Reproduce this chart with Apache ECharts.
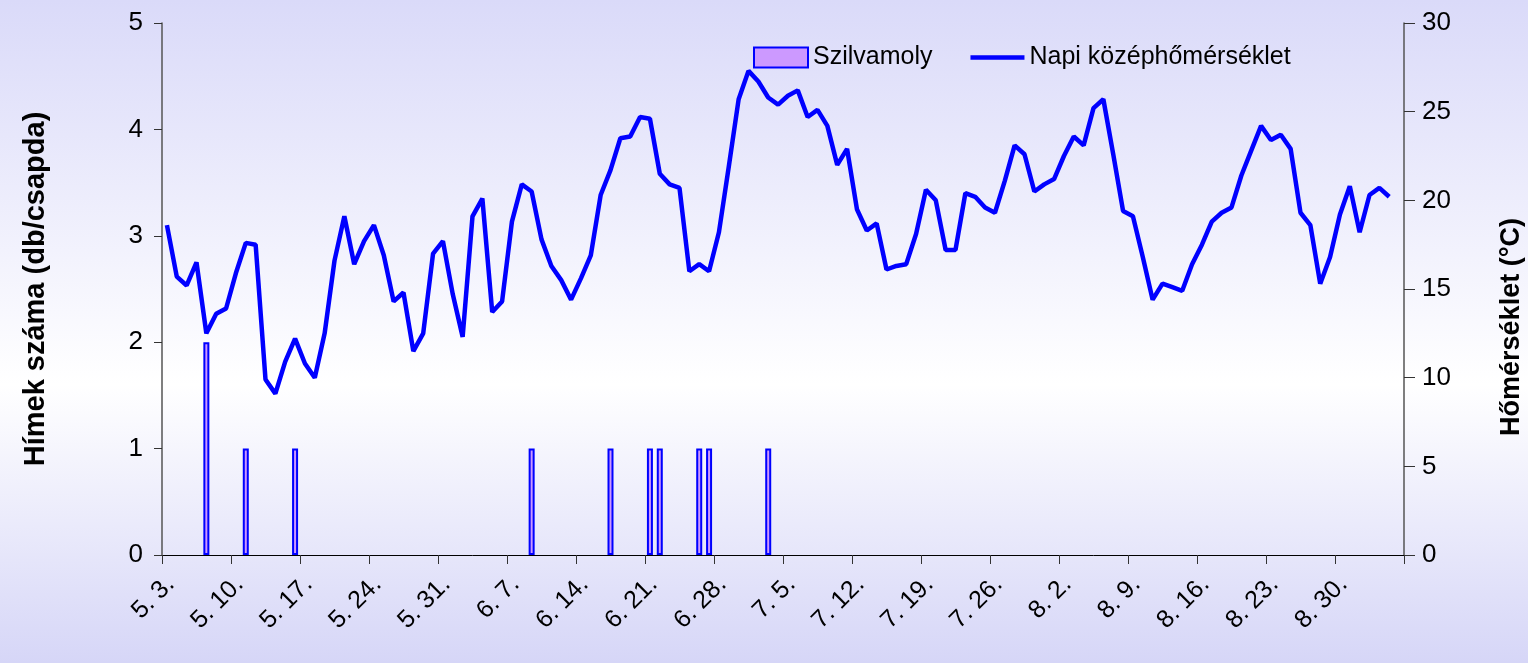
<!DOCTYPE html>
<html>
<head>
<meta charset="utf-8">
<script src="https://cdn.jsdelivr.net/npm/echarts@6/dist/echarts.min.js"></script>
<style>
html,body{margin:0;padding:0;}
#chart{width:1528px;height:663px;}
</style>
</head>
<body>
<div id="chart"></div>
<script>
// Tick labels every 7 days starting 5. 3.
const tickLabels = ['5. 3.','5. 10.','5. 17.','5. 24.','5. 31.','6. 7.','6. 14.','6. 21.','6. 28.','7. 5.','7. 12.','7. 19.','7. 26.','8. 2.','8. 9.','8. 16.','8. 23.','8. 30.'];
const totalDays = 126;
// Daily mean temperature (°C), day 0 = 5. 3.
const temps = [18.6,15.7,15.2,16.5,12.5,13.6,13.9,15.9,17.6,17.5,
  9.9,9.1,10.9,12.2,10.8,10.0,12.5,16.6,19.1,16.4,
  17.7,18.6,16.9,14.3,14.8,11.5,12.5,17.0,17.7,14.7,
  12.3,19.1,20.1,13.7,14.3,18.8,20.9,20.5,17.8,16.3,
  15.5,14.4,15.6,16.9,20.3,21.7,23.5,23.6,24.7,24.6,
  21.5,20.9,20.7,16.0,16.4,16.0,18.2,21.9,25.7,27.3,
  26.7,25.8,25.4,25.9,26.2,24.7,25.1,24.2,22.0,22.9,
  19.5,18.3,18.7,16.1,16.3,16.4,18.1,20.6,20.0,17.2,
  17.2,20.4,20.2,19.6,19.3,21.1,23.1,22.6,20.5,20.9,
  21.2,22.5,23.6,23.1,25.2,25.7,22.6,19.4,19.1,16.8,
  14.4,15.3,15.1,14.9,16.4,17.5,18.8,19.3,19.6,21.4,
  22.8,24.2,23.4,23.7,22.9,19.3,18.6,15.3,16.8,19.2,
  20.8,18.2,20.3,20.7,20.2];
// Plum moth trap catches: day index and count
const mothDays = [4,8,13,37,45,49,50,54,55,61];
const mothCounts = [2,1,1,1,1,1,1,1,1,1];

const FONT = "'Liberation Sans', Arial, sans-serif";
const TICK = {color: '#333', width: 1};
const chart = echarts.init(document.getElementById('chart'));
chart.setOption({
  animation: false,
  backgroundColor: {
    type: 'linear', x: 0, y: 0, x2: 0, y2: 1,
    colorStops: [
      {offset: 0, color: '#dadaf9'},
      {offset: 0.58, color: '#ffffff'},
      {offset: 1, color: '#d6d6f7'}
    ]
  },
  textStyle: {fontFamily: FONT},
  grid: {left: 162, right: 124, top: 23, bottom: 108},
  legend: {
    left: 748, top: 40,
    itemWidth: 54, itemHeight: 20, itemGap: 38,
    textStyle: {fontSize: 25, color: '#000', fontFamily: FONT},
    data: [
      {name: 'Szilvamoly', icon: 'rect', itemStyle: {color: '#cc99ff', borderColor: '#0000ff', borderWidth: 2}},
      {name: 'Napi középhőmérséklet', icon: 'path://M0,0 L120,0 L120,10 L0,10 Z', itemStyle: {color: '#0000ff', borderWidth: 0}}
    ]
  },
  graphic: [{
    type: 'text', x: 1512, y: 327, rotation: Math.PI / 2,
    style: {
      text: 'Hőmérséklet (°C)', fill: '#000',
      font: "bold 27px 'Liberation Sans', Arial, sans-serif",
      align: 'center', verticalAlign: 'middle'
    }
  }],
  xAxis: {
    type: 'value', min: 0, max: totalDays, interval: 7,
    axisLine: {show: true, lineStyle: {color: '#000', width: 1}},
    axisTick: {show: true, length: 9, lineStyle: TICK},
    splitLine: {show: false},
    axisLabel: {
      rotate: 45, fontSize: 25, color: '#000', margin: 34, fontFamily: FONT,
      padding: [0, -12, 0, 0],
      showMaxLabel: true,
      formatter: function (v) { return tickLabels[Math.round(v / 7)] || ''; }
    }
  },
  yAxis: [
    {
      type: 'value', min: 0, max: 5, interval: 1, position: 'left',
      name: 'Hímek száma (db/csapda)', nameLocation: 'middle', nameRotate: 90, nameGap: 112,
      nameTextStyle: {fontSize: 29, fontWeight: 'bold', color: '#000', fontFamily: FONT},
      axisLine: {show: true, lineStyle: {color: '#555', width: 1.5}},
      axisTick: {show: true, length: 8, lineStyle: TICK},
      splitLine: {show: false},
      axisLabel: {fontSize: 26, color: '#000', margin: 19, fontFamily: FONT}
    },
    {
      type: 'value', min: 0, max: 30, interval: 5, position: 'right',
      axisLine: {show: true, lineStyle: {color: '#555', width: 1.5}},
      axisTick: {show: true, length: 11, lineStyle: TICK},
      splitLine: {show: false},
      axisLabel: {fontSize: 26, color: '#000', margin: 18, fontFamily: FONT}
    }
  ],
  series: [
    {
      name: 'Szilvamoly', type: 'bar', yAxisIndex: 0, barWidth: 6,
      itemStyle: {color: '#cc99ff', borderColor: '#0000ff', borderWidth: 2},
      data: mothDays.map((d, i) => [d + 0.5, mothCounts[i]])
    },
    {
      name: 'Napi középhőmérséklet', type: 'line', yAxisIndex: 1,
      symbol: 'none', z: 5,
      lineStyle: {color: '#0000ff', width: 4.5},
      itemStyle: {color: '#0000ff'},
      data: temps.map((t, i) => [i + 0.5, t])
    }
  ]
});
</script>
</body>
</html>
